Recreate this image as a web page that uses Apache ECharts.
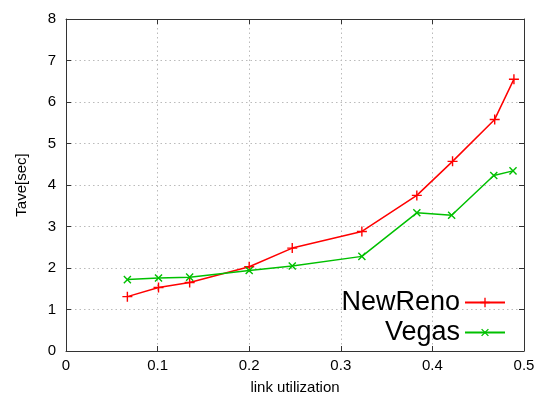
<!DOCTYPE html>
<html><head><meta charset="utf-8">
<script src="https://cdn.jsdelivr.net/npm/echarts@6/dist/echarts.min.js"></script>
<style>html,body{margin:0;padding:0;background:#fff}#c{width:541px;height:400px}</style>
</head><body><div id="c"></div>
<script>
const utilization = [0.067, 0.101, 0.135, 0.200, 0.247, 0.323, 0.383, 0.422, 0.468, 0.489];
const newRenoTave = [1.31, 1.53, 1.65, 2.03, 2.48, 2.88, 3.75, 4.57, 5.58, 6.55];
const vegasUtil = [0.067, 0.101, 0.135, 0.200, 0.247, 0.323, 0.383, 0.421, 0.467, 0.488];
const vegasTave = [1.72, 1.76, 1.78, 1.94, 2.05, 2.28, 3.33, 3.27, 4.23, 4.34];
const seriesNames = ['NewReno', 'Vegas'];
const xTitle = 'link utilization';
const yTitle = 'Tave[sec]';

const FONT = 'Liberation Sans, Arial, sans-serif';
const plus = 'path://M4.3,0h1.4v10h-1.4z M0,4.3h10v1.4h-10z';
const frameColor = '#333';
const gridLine = {show: true, lineStyle: {color: '#bbbbbb', type: [1.5, 3], width: 1}};

const chart = echarts.init(document.getElementById('c'), null, {renderer: 'canvas'});
chart.setOption({
  animation: false,
  textStyle: {fontFamily: FONT},
  grid: {left: 66, right: 17, top: 19, bottom: 46, show: false},
  legend: {
    orient: 'vertical', right: 30, top: 284, align: 'right',
    itemWidth: 40, itemHeight: 12, itemGap: 3,
    textStyle: {fontSize: 27, color: '#000', fontFamily: FONT},
    data: seriesNames
  },
  xAxis: [{
    type: 'value', min: 0, max: 0.5, interval: 0.1,
    name: xTitle, nameLocation: 'middle', nameGap: 29,
    nameTextStyle: {fontSize: 15, color: '#000'},
    axisLine: {show: true, onZero: false, lineStyle: {color: frameColor, width: 1}},
    axisTick: {show: true, inside: true, length: 5, lineStyle: {color: frameColor}},
    axisLabel: {fontSize: 15, color: '#000', margin: 7, formatter: v => (v === 0 ? '0' : String(+v.toFixed(1)))},
    splitLine: gridLine
  }, {
    type: 'value', min: 0, max: 0.5, interval: 0.1, position: 'top',
    axisLine: {show: true, onZero: false, lineStyle: {color: frameColor, width: 1}},
    axisTick: {show: true, inside: true, length: 5, lineStyle: {color: frameColor}},
    axisLabel: {show: false}, splitLine: {show: false}
  }],
  yAxis: [{
    type: 'value', min: 0, max: 8, interval: 1,
    name: yTitle, nameLocation: 'middle', nameGap: 37,
    nameTextStyle: {fontSize: 15, color: '#000'},
    axisLine: {show: true, onZero: false, lineStyle: {color: frameColor, width: 1}},
    axisTick: {show: true, inside: true, length: 5, lineStyle: {color: frameColor}},
    axisLabel: {fontSize: 15, color: '#000', margin: 10},
    splitLine: gridLine
  }, {
    type: 'value', min: 0, max: 8, interval: 1, position: 'right',
    axisLine: {show: true, onZero: false, lineStyle: {color: frameColor, width: 1}},
    axisTick: {show: true, inside: true, length: 5, lineStyle: {color: frameColor}},
    axisLabel: {show: false}, splitLine: {show: false}
  }],
  series: [{
    name: seriesNames[0], type: 'line',
    data: utilization.map((x, i) => [x, newRenoTave[i]]),
    symbol: plus, symbolSize: 10, symbolKeepAspect: true,
    lineStyle: {color: '#ff0000', width: 1.5},
    itemStyle: {color: '#ff0000'}
  }, {
    name: seriesNames[1], type: 'line',
    data: vegasUtil.map((x, i) => [x, vegasTave[i]]),
    symbol: plus, symbolSize: 10, symbolRotate: 45, symbolKeepAspect: true,
    lineStyle: {color: '#00c000', width: 1.5},
    itemStyle: {color: '#00c000'}
  }]
});
</script></body></html>
